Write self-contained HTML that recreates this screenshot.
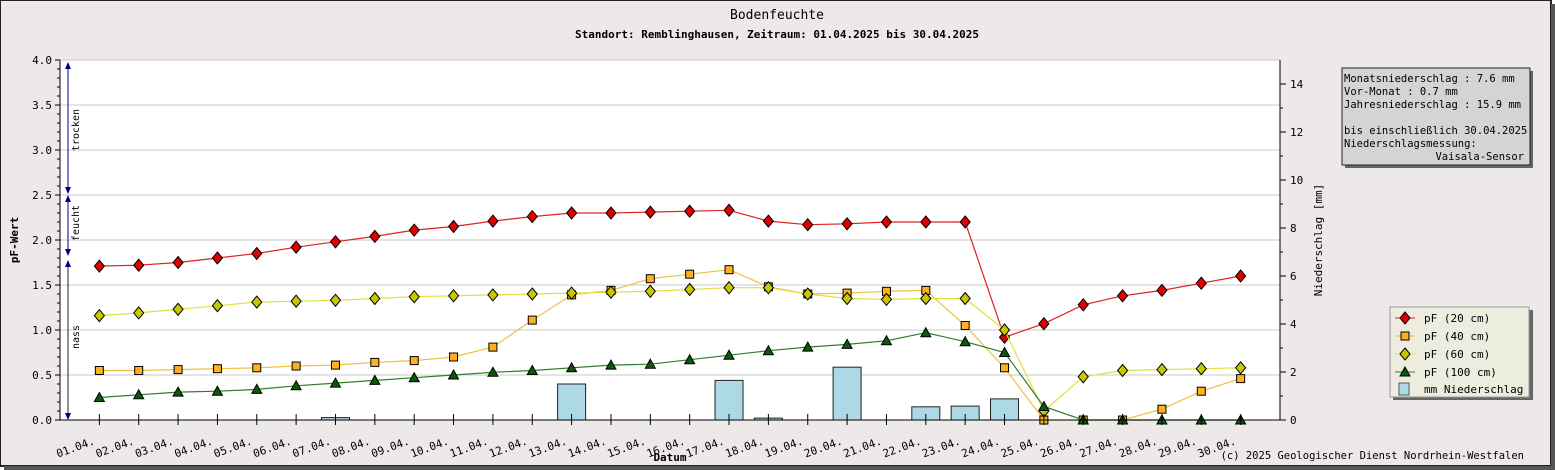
<!DOCTYPE html>
<html><head><meta charset="utf-8"><style>
html,body{margin:0;padding:0;background:#fff}
svg{display:block;font-family:"DejaVu Sans Mono","Liberation Mono",monospace}
</style></head><body>
<svg id="c" width="1555" height="470" viewBox="0 0 1555 470">
<rect x="0" y="0" width="1551" height="466" fill="#ece9e8" stroke="#222" stroke-width="2"/>
<rect x="4" y="466" width="1551" height="4" fill="#555"/><rect x="1551" y="4" width="4" height="466" fill="#555"/>
<text x="777" y="19" font-size="13" text-anchor="middle">Bodenfeuchte</text>
<text x="777" y="38" font-size="11" font-weight="bold" text-anchor="middle">Standort: Remblinghausen, Zeitraum: 01.04.2025 bis 30.04.2025</text>
<rect x="60" y="60" width="1220" height="360" fill="#fff"/>
<g id="grid"></g><g id="bars"></g><g id="lines"></g><g id="axes"></g>
<text transform="translate(18,240) rotate(-90)" font-size="11" font-weight="bold" text-anchor="middle">pF-Wert</text>
<text transform="translate(1322,240) rotate(-90)" font-size="11" text-anchor="middle">Niederschlag [mm]</text>
<text x="670" y="461" font-size="11" font-weight="bold" text-anchor="middle">Datum</text>
<text x="1524" y="459" font-size="10.5" text-anchor="end">(c) 2025 Geologischer Dienst Nordrhein-Westfalen</text>
<g>
<line x1="68" y1="64" x2="68" y2="189" stroke="#00008b"/>
<polygon points="65,69 71,69 68,62" fill="#00008b"/><polygon points="65,187 71,187 68,194" fill="#00008b"/>
<line x1="68" y1="199" x2="68" y2="251" stroke="#00008b"/>
<polygon points="65,202 71,202 68,195" fill="#00008b"/><polygon points="65,249 71,249 68,256" fill="#00008b"/>
<line x1="68" y1="262" x2="68" y2="414" stroke="#222"/>
<polygon points="65,267 71,267 68,260" fill="#00008b"/><polygon points="65,413 71,413 68,420" fill="#00008b"/>
<text transform="translate(79,130) rotate(-90)" font-size="10" text-anchor="middle">trocken</text>
<text transform="translate(79,223) rotate(-90)" font-size="10" text-anchor="middle">feucht</text>
<text transform="translate(79,337) rotate(-90)" font-size="10" text-anchor="middle">nass</text>
</g>
<g>
<rect x="1345" y="71" width="188" height="97" fill="#666"/>
<rect x="1342" y="68" width="188" height="97" fill="#d4d4d4" stroke="#222"/>
<g font-size="10.5" xml:space="preserve">
<text x="1344" y="82">Monatsniederschlag :    7.6 mm</text>
<text x="1344" y="95">Vor-Monat          :    0.7 mm</text>
<text x="1344" y="108">Jahresniederschlag :   15.9 mm</text>
<text x="1344" y="134">bis einschließlich 30.04.2025</text>
<text x="1344" y="147">Niederschlagsmessung:</text>
<text x="1524" y="160" text-anchor="end">Vaisala-Sensor</text>
</g></g>
<g>
<rect x="1393" y="310" width="140" height="90" fill="#666"/>
<rect x="1390" y="307" width="139" height="90" fill="#ececdf" stroke="#999"/>
<g id="leg"></g>
</g>
</svg>
<script>
const dates=["01.04.","02.04.","03.04.","04.04.","05.04.","06.04.","07.04.","08.04.","09.04.","10.04.","11.04.","12.04.","13.04.","14.04.","15.04.","16.04.","17.04.","18.04.","19.04.","20.04.","21.04.","22.04.","23.04.","24.04.","25.04.","26.04.","27.04.","28.04.","29.04.","30.04."];
const pf20=[1.71,1.72,1.75,1.80,1.85,1.92,1.98,2.04,2.11,2.15,2.21,2.26,2.30,2.30,2.31,2.32,2.33,2.21,2.17,2.18,2.20,2.20,2.20,0.92,1.07,1.28,1.38,1.44,1.52,1.60];
const pf40=[0.55,0.55,0.56,0.57,0.58,0.60,0.61,0.64,0.66,0.70,0.81,1.11,1.39,1.44,1.57,1.62,1.67,1.48,1.40,1.41,1.43,1.44,1.05,0.58,0,0,0,0.12,0.32,0.46];
const pf60=[1.16,1.19,1.23,1.27,1.31,1.32,1.33,1.35,1.37,1.38,1.39,1.40,1.41,1.42,1.43,1.45,1.47,1.47,1.40,1.35,1.34,1.35,1.35,1.00,0.10,0.48,0.55,0.56,0.57,0.58];
const pf100=[0.25,0.28,0.31,0.32,0.34,0.38,0.41,0.44,0.47,0.50,0.53,0.55,0.58,0.61,0.62,0.67,0.72,0.77,0.81,0.84,0.88,0.97,0.87,0.75,0.15,0,0,0,0,0];
const rain=[0,0,0,0,0,0,0.1,0,0,0,0,0,1.5,0,0,0,1.65,0.08,0,2.2,0,0.55,0.58,0.88,0,0,0,0,0,0];
const leftTicks=["0.0","0.5","1.0","1.5","2.0","2.5","3.0","3.5","4.0"];
const rightTicks=["0","2","4","6","8","10","12","14"];
const NS="http://www.w3.org/2000/svg";
const X0=60,X1=1280,Y0=420,Y1=60,step=(X1-X0)/31;
const xs=i=>X0+step*(i+1);
const yL=v=>Y0-(v/4)*(Y0-Y1);
const yR=v=>Y0-(v/15)*(Y0-Y1);
function mk(tag,attrs,parent){const e=document.createElementNS(NS,tag);for(const k in attrs)e.setAttribute(k,attrs[k]);parent.appendChild(e);return e;}
const grid=document.getElementById('grid'),axes=document.getElementById('axes'),bars=document.getElementById('bars'),lines=document.getElementById('lines');
leftTicks.forEach(t=>{const v=parseFloat(t),y=yL(v);
 if(v>0){const g=mk('line',{x1:X0,x2:X1,y1:y,y2:y,stroke:'#c8c8c8'},grid);}
 mk('line',{x1:X0-5,x2:X0,y1:y,y2:y,stroke:'#000'},axes);
 const tx=mk('text',{x:X0-8,y:y+4,'font-size':11,'text-anchor':'end'},axes);tx.textContent=t;
 
 
});
for(let v=0.1;v<4;v+=0.1){const y=yL(v);mk('line',{x1:X0-3,x2:X0,y1:y,y2:y,stroke:'#000'},axes);}
rightTicks.forEach(t=>{const v=+t,y=yR(v);
 mk('line',{x1:X1,x2:X1+6,y1:y,y2:y,stroke:'#000'},axes);
 const tx=mk('text',{x:X1+10,y:y+4,'font-size':11},axes);tx.textContent=t;
 
 
});
for(let v=1;v<15;v+=2){const y=yR(v);mk('line',{x1:X1,x2:X1+3,y1:y,y2:y,stroke:'#000'},axes);}
mk('line',{x1:X0,x2:X0,y1:Y1,y2:Y0,stroke:'#000'},axes);
mk('line',{x1:X1,x2:X1,y1:Y1,y2:Y0,stroke:'#000'},axes);
mk('line',{x1:X0,x2:X1,y1:Y0,y2:Y0,stroke:'#000'},axes);
dates.forEach((d,i)=>{const x=xs(i);
 mk('line',{x1:x,x2:x,y1:Y0-6,y2:Y0+5,stroke:'#000'},axes);
 const tx=mk('text',{transform:`translate(${x-4},${Y0+24}) rotate(-20)`,'font-size':11,'text-anchor':'end'},axes);tx.textContent=d;
 
 
});
rain.forEach((v,i)=>{if(v<=0)return;const y=yR(v);
 const r=mk('rect',{x:xs(i)-14,y:y,width:28,height:Y0-y,fill:'#add8e6',stroke:'#222'},bars);
 
 
});
function marker(kind,x,y,fill,p){
 let e;
 if(kind==='diamond')e=mk('polygon',{points:`${x},${y-6} ${x+5},${y} ${x},${y+6} ${x-5},${y}`,fill,stroke:'#000'},p);
 else if(kind==='bigdiamond')e=mk('polygon',{points:`${x},${y-6} ${x+5},${y} ${x},${y+6} ${x-5},${y}`,fill,stroke:'#000'},p);
 else if(kind==='square')e=mk('rect',{x:x-4,y:y-4,width:8,height:8,fill,stroke:'#000'},p);
 else e=mk('polygon',{points:`${x},${y-5} ${x+5},${y+4} ${x-5},${y+4}`,fill,stroke:'#000'},p);
 return e;
}
const series=[
 {name:'pf-20cm',vals:pf20,color:'#e02020',fill:'#e00000',kind:'bigdiamond',label:'pF (20 cm)'},
 {name:'pf-40cm',vals:pf40,color:'#f0c040',fill:'#ffb020',kind:'square',label:'pF (40 cm)'},
 {name:'pf-60cm',vals:pf60,color:'#e0e040',fill:'#c8c800',kind:'diamond',label:'pF (60 cm)'},
 {name:'pf-100cm',vals:pf100,color:'#2e7d2e',fill:'#0b5a0b',kind:'tri',label:'pF (100 cm)'}
];
const leg=document.getElementById('leg');
series.forEach((s,k)=>{
 const g=mk('g',{},lines);
 
 
 mk('polyline',{points:s.vals.map((v,i)=>xs(i)+','+yL(v)).join(' '),fill:'none',stroke:s.color,'stroke-width':1.2},g);
 s.vals.forEach((v,i)=>{const m=marker(s.kind,xs(i),yL(v),s.fill,g);
  
  });
 const ly=318+k*18;
 mk('line',{x1:1395,x2:1415,y1:ly,y2:ly,stroke:s.color},leg);
 marker(s.kind,1405,ly,s.fill,leg);
 const t=mk('text',{x:1424,y:ly+4,'font-size':11},leg);t.textContent=s.label;
 
 
});
mk('rect',{x:1399,y:383,width:10,height:12,fill:'#add8e6',stroke:'#555'},leg);
const lt=mk('text',{x:1424,y:393,'font-size':11},leg);lt.textContent='mm  Niederschlag';


</script>
</body></html>
